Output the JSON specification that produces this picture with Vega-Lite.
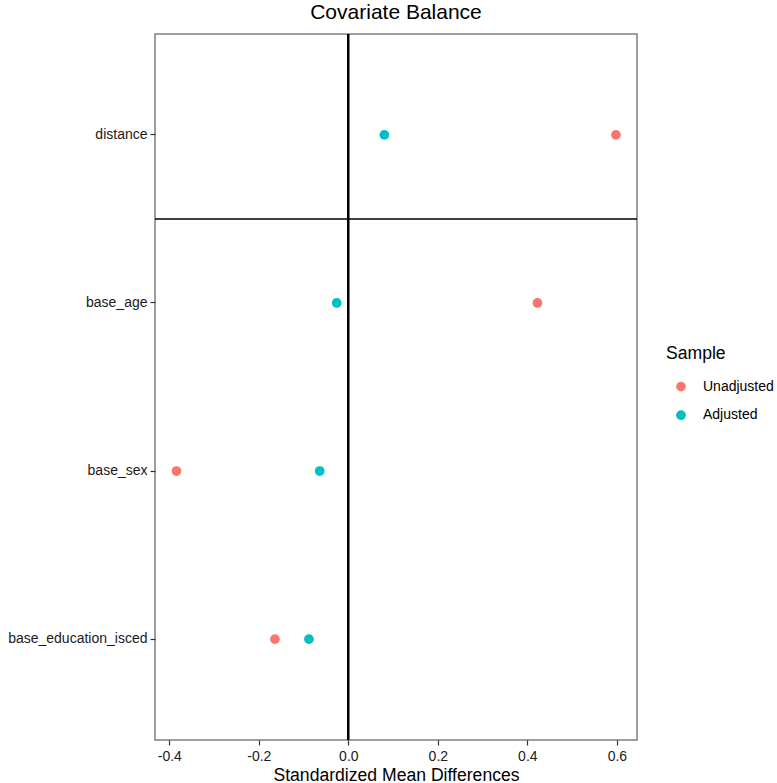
{
  "$schema": "https://vega.github.io/schema/vega-lite/v6.json",
  "width": 482,
  "height": 706,
  "autosize": {"type": "none"},
  "padding": {"left": 155, "top": 34, "right": 140, "bottom": 43},
  "background": "white",
  "title": {
    "text": "Covariate Balance",
    "fontSize": 21,
    "font": "Liberation Sans",
    "fontWeight": "normal",
    "color": "#000000",
    "anchor": "middle",
    "offset": 10
  },
  "config": {
    "font": "Liberation Sans",
    "view": {"stroke": "#7f7f7f", "strokeWidth": 1.5},
    "axis": {
      "grid": false,
      "domain": false,
      "labelFont": "Liberation Sans",
      "labelFontSize": 14,
      "labelColor": "#1a1a1a",
      "tickColor": "#333333",
      "tickSize": 5,
      "tickWidth": 1.2,
      "labelPadding": 3,
      "titleFont": "Liberation Sans",
      "titleFontSize": 17.6,
      "titleFontWeight": "normal",
      "titleColor": "#000000"
    }
  },
  "data": {
    "values": [
      {"var": "distance", "sample": "Unadjusted", "smd": 0.598},
      {"var": "distance", "sample": "Adjusted", "smd": 0.0805},
      {"var": "base_age", "sample": "Unadjusted", "smd": 0.4225},
      {"var": "base_age", "sample": "Adjusted", "smd": -0.026},
      {"var": "base_sex", "sample": "Unadjusted", "smd": -0.384},
      {"var": "base_sex", "sample": "Adjusted", "smd": -0.064},
      {"var": "base_education_isced", "sample": "Unadjusted", "smd": -0.164},
      {"var": "base_education_isced", "sample": "Adjusted", "smd": -0.088}
    ]
  },
  "layer": [
    {
      "mark": {"type": "rule", "color": "#000000", "strokeWidth": 1.5},
      "encoding": {
        "x": {"datum": 0, "type": "quantitative"}
      }
    },
    {
      "data": {"values": [{"var": "base_age"}]},
      "mark": {"type": "rule", "color": "#000000", "strokeWidth": 1.5},
      "encoding": {
        "y": {"field": "var", "type": "nominal", "bandPosition": 0}
      }
    },
    {
      "mark": {"type": "point", "filled": true, "size": 95, "opacity": 1},
      "encoding": {
        "x": {
          "field": "smd",
          "type": "quantitative",
          "title": "Standardized Mean Differences",
          "scale": {"domain": [-0.432, 0.645], "nice": false, "zero": false},
          "axis": {"values": [-0.4, -0.2, 0, 0.2, 0.4, 0.6], "labelExpr": "replace(format(datum.value, '.1f'), '\u2212', '-')", "titlePadding": 3, "labelPadding": 4}
        },
        "y": {
          "field": "var",
          "type": "nominal",
          "title": null,
          "scale": {"type": "band", "domain": ["distance", "base_age", "base_sex", "base_education_isced"], "paddingInner": 0, "paddingOuter": 0.1}
        },
        "color": {
          "field": "sample",
          "type": "nominal",
          "title": "Sample",
          "scale": {"domain": ["Unadjusted", "Adjusted"], "range": ["#F8766D", "#00BFC4"]},
          "legend": {
            "orient": "none",
            "legendX": 511,
            "legendY": 311,
            "padding": 0,
            "titleFontSize": 17.6,
            "titleFontWeight": "normal",
            "titleColor": "#000000",
            "titleFont": "Liberation Sans",
            "titlePadding": 17,
            "labelFontSize": 14,
            "labelFont": "Liberation Sans",
            "labelColor": "#000000",
            "labelOffset": 15,
            "symbolType": "circle",
            "symbolSize": 95,
            "symbolOffset": 8,
            "rowPadding": 14.6
          }
        }
      }
    }
  ]
}
